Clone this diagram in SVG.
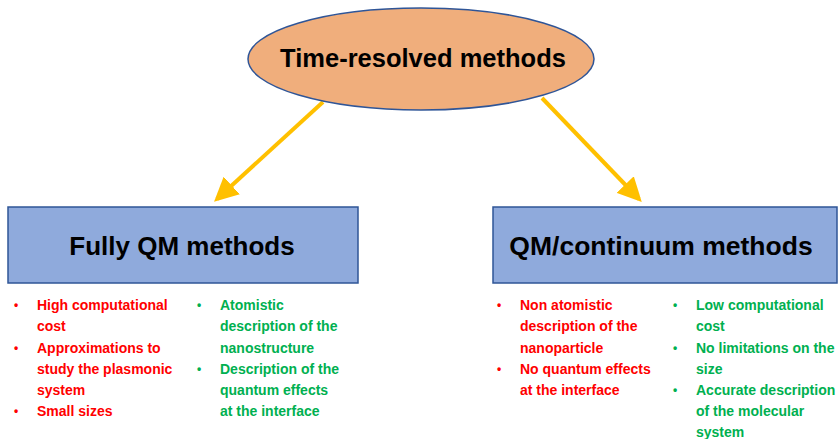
<svg xmlns="http://www.w3.org/2000/svg" width="840" height="439" viewBox="0 0 840 439">
<defs>
<marker id="ah" markerWidth="6" markerHeight="6" refX="5" refY="3" orient="auto" markerUnits="strokeWidth">
<path d="M0,0 L6,3 L0,6 Z" fill="#FFC000"/>
</marker>
<style>
.title{font-family:"Liberation Sans",Arial,sans-serif;font-weight:bold;fill:#000;text-anchor:middle}
.b{font-family:"Liberation Sans",Arial,sans-serif;font-weight:bold;font-size:14px}
.dot{font-size:12px}
.r{fill:#FF0000}
.g{fill:#00B050}
.box{fill:#8FAADC;stroke:#2F5597;stroke-width:1.5}
.conn{stroke:#FFC000;stroke-width:4;fill:none;marker-end:url(#ah)}
</style>
</defs>
<rect width="840" height="439" fill="#fff"/>
<g id="connectors">
<line class="conn" x1="323" y1="102" x2="217" y2="199"/>
<line class="conn" x1="542" y1="98" x2="639" y2="199"/>
</g>
<g id="root">
<ellipse cx="421" cy="59" rx="173" ry="51" fill="#F0AE7C" stroke="#2F5597" stroke-width="1.5"/>
<text class="title" x="423" y="67" font-size="25.5">Time-resolved methods</text>
</g>
<g id="fullyqm">
<rect class="box" x="8" y="207" width="350" height="76"/>
<text class="title" x="182" y="255" font-size="26">Fully QM methods</text>
</g>
<g id="qmcont">
<rect class="box" x="493" y="207" width="344" height="76"/>
<text class="title" x="661" y="255" font-size="26.5">QM/continuum methods</text>
</g>
<g id="fullyqm-cons" class="b r">
<text class="dot" x="14" y="309">•</text>
<text x="37" y="310">High computational</text>
<text x="37" y="331">cost</text>
<text class="dot" x="14" y="352">•</text>
<text x="37" y="353">Approximations to</text>
<text x="37" y="374">study the plasmonic</text>
<text x="37" y="395">system</text>
<text class="dot" x="14" y="415">•</text>
<text x="37" y="416">Small sizes</text>
</g>
<g id="fullyqm-pros" class="b g">
<text class="dot" x="197" y="309">•</text>
<text x="220" y="310">Atomistic</text>
<text x="220" y="331">description of the</text>
<text x="220" y="353">nanostructure</text>
<text class="dot" x="197" y="373">•</text>
<text x="220" y="374">Description of the</text>
<text x="220" y="395">quantum effects</text>
<text x="220" y="416">at the interface</text>
</g>
<g id="qmcont-cons" class="b r">
<text class="dot" x="497" y="309">•</text>
<text x="520" y="310">Non atomistic</text>
<text x="520" y="331">description of the</text>
<text x="520" y="353">nanoparticle</text>
<text class="dot" x="497" y="373">•</text>
<text x="520" y="374">No quantum effects</text>
<text x="520" y="395">at the interface</text>
</g>
<g id="qmcont-pros" class="b g">
<text class="dot" x="673" y="309">•</text>
<text x="696" y="310">Low computational</text>
<text x="696" y="331">cost</text>
<text class="dot" x="673" y="352">•</text>
<text x="696" y="353">No limitations on the</text>
<text x="696" y="374">size</text>
<text class="dot" x="673" y="394">•</text>
<text x="696" y="395">Accurate description</text>
<text x="696" y="416">of the molecular</text>
<text x="696" y="437">system</text>
</g>
</svg>
